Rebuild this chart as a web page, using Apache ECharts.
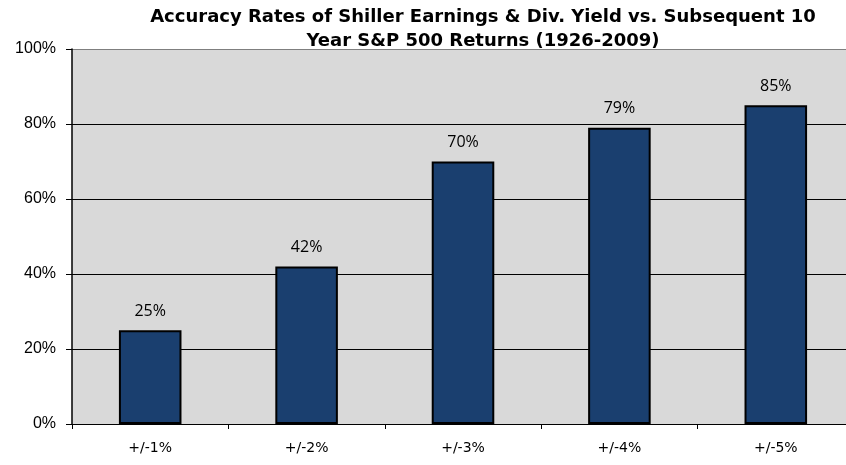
<!DOCTYPE html>
<html>
<head>
<meta charset="utf-8">
<script src="https://cdn.jsdelivr.net/npm/echarts@6/dist/echarts.min.js"></script>
<style>
  html, body { margin: 0; padding: 0; background: #fff; overflow: hidden; }
  /* plot runs a little past the right edge in the original, so the canvas is wider than the window */
  #main { width: 854px; height: 465px; }
</style>
</head>
<body>
<div id="main"></div>
<script>
// categories and values
var categories = ['+/-1%', '+/-2%', '+/-3%', '+/-4%', '+/-5%'];
var accuracy = [25, 42, 70, 79, 85];
var yTicks = [0, 20, 40, 60, 80, 100];

var myChart = echarts.init(document.getElementById('main'));

var option = {
    animation: false,
    title: {
        text: 'Accuracy Rates of Shiller Earnings & Div. Yield vs. Subsequent 10\nYear S&P 500 Returns (1926-2009)',
        left: 478,
        top: 0,
        textAlign: 'center',
        textStyle: {
            fontFamily: 'DejaVu Sans',
            fontWeight: 'bold',
            fontSize: 18,
            color: '#000',
            lineHeight: 24
        }
    },
    grid: {
        left: 72,
        right: 0,
        top: 49,
        bottom: 41,
        show: true,
        backgroundColor: '#D9D9D9',
        borderWidth: 0
    },
    xAxis: {
        type: 'category',
        data: categories,
        axisLine: { lineStyle: { color: '#000', width: 1 } },
        axisTick: { show: true, length: 5, lineStyle: { color: '#000' } },
        axisLabel: {
            fontFamily: 'DejaVu Sans',
            fontSize: 14,
            color: '#000',
            margin: 17
        }
    },
    yAxis: {
        type: 'value',
        min: yTicks[0],
        max: yTicks[yTicks.length - 1],
        interval: 20,
        axisLine: { show: true, lineStyle: { color: '#000', width: 1.5 } },
        axisTick: { show: true, length: 6, lineStyle: { color: '#000' } },
        axisLabel: {
            formatter: '{value}%',
            fontFamily: 'Liberation Sans',
            fontSize: 16,
            color: '#000',
            margin: 16
        },
        splitLine: {
            lineStyle: {
                // top line of the plot is the grey frame
                color: ['#000', '#000', '#000', '#000', '#000', '#7F7F7F'],
                width: 1
            }
        }
    },
    series: [{
        type: 'bar',
        data: accuracy,
        barWidth: '40%',
        itemStyle: {
            color: '#1A3F6F',
            borderColor: '#000',
            borderWidth: 2
        },
        label: {
            show: true,
            position: 'top',
            distance: 11,
            formatter: '{c}%',
            fontFamily: 'Open Sans',
            fontSize: 16,
            color: '#000'
        }
    }]
};

myChart.setOption(option);
</script>
</body>
</html>
